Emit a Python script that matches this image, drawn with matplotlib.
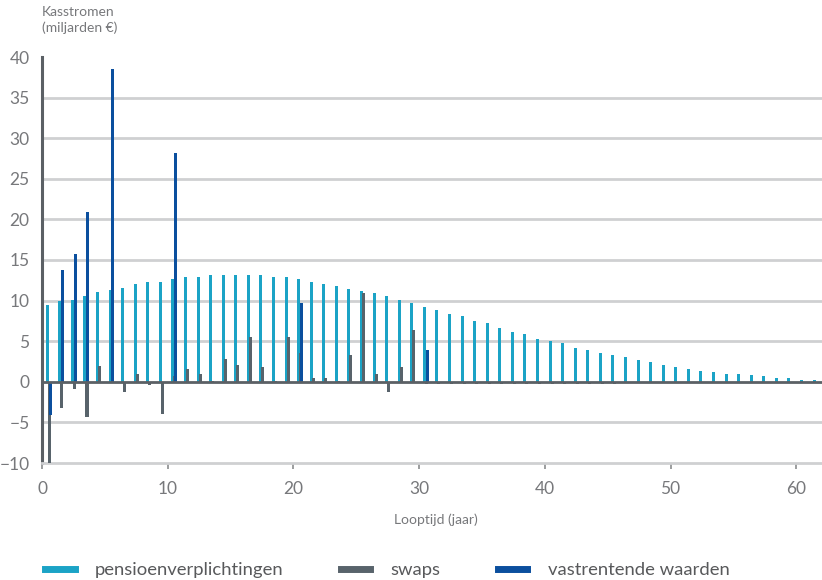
import numpy as np
import matplotlib
matplotlib.use("Agg")
import matplotlib.pyplot as plt
from matplotlib.lines import Line2D

plt.rcParams['font.family'] = ['Lato', 'DejaVu Sans']

# ---------------- data ----------------
pension = [9.5, 9.9, 10.1, 10.6, 11.0, 11.3, 11.5, 12.1, 12.35, 12.35,
           12.7, 12.9, 12.9, 13.2, 13.2, 13.2, 13.2, 13.2, 12.9, 12.9,
           12.6, 12.35, 12.05, 11.75, 11.45, 11.2, 10.9, 10.6, 10.1, 9.7,
           9.2, 8.9, 8.4, 8.1, 7.5, 7.2, 6.6, 6.1, 5.85, 5.3,
           5.0, 4.75, 4.2, 3.9, 3.6, 3.3, 3.0, 2.7, 2.4, 2.1,
           1.85, 1.55, 1.3, 1.25, 1.0, 0.95, 0.8, 0.75, 0.5, 0.45, 0.25, 0.2]

swaps = [-10.0, -3.2, -0.9, -4.3, 1.9, 0.0, -1.2, 1.0, -0.4, -4.0,
         0.75, 1.55, 1.0, 0.1, 2.75, 2.1, 5.55, 1.85, 0.1, 5.55,
         3.5, 0.5, 0.5, 0.1, 3.3, 10.9, 1.0, -1.2, 1.85, 6.4,
         -0.25, -0.25, -0.25, -0.25, -0.25, -0.25, -0.25, -0.25, -0.25, -0.25,
         -0.25, -0.25, -0.25, -0.25, -0.25, -0.25, -0.15, -0.15, -0.15, -0.15,
         -0.15, -0.15, -0.15, -0.15, -0.15, -0.15, -0.15, -0.15, -0.15, -0.15, -0.15, -0.15]

vast = [-4.1, 13.8, 15.8, 20.9, 0, 38.5, 0, 0, 0, 0,
        28.2, 0, 0, 0, 0, 0, 0, 0, 0, 0,
        9.7, 0, 0, 0, 0, 0, 0, 0, 0, 0,
        3.9, 0, 0, 0, 0, 0, 0, 0, 0, 0,
        0, 0, 0, 0, 0, 0, 0, 0, 0, 0,
        0, 0, 0, 0, 0, 0, 0, 0, 0, 0, 0, 0]

series_names = ['pensioenverplichtingen', 'swaps', 'vastrentende waarden']
x_ticks = [0, 10, 20, 30, 40, 50, 60]
y_ticks = [-10, -5, 0, 5, 10, 15, 20, 25, 30, 35, 40]
y_title = 'Kasstromen\n(miljarden €)'
x_title = 'Looptijd (jaar)'

# ---------------- style ----------------
c_pension = '#1ba3c6'
c_swaps = '#58636b'
c_vast = '#0b4f9e'
c_text = '#77787b'
c_grid = '#cfd0d2'

W, H = 822, 580
fig = plt.figure(figsize=(W / 100, H / 100), dpi=100)
ax = fig.add_axes([42 / W, 117 / H, 780 / W, 406 / H])

years = np.arange(len(pension))
bw = 0.24
ax.bar(years + 0.42, pension, width=bw, color=c_pension, zorder=3, linewidth=0)
ax.bar(years + 0.58, swaps, width=bw, color=c_swaps, zorder=4, linewidth=0)
vast_arr = np.array(vast, dtype=float)
mask = vast_arr != 0
ax.bar(years[mask] + 0.64, vast_arr[mask], width=bw, color=c_vast, zorder=5, linewidth=0)

ax.set_xlim(0, 62.05)
ax.set_ylim(-10, 40)

# gridlines (except 0 and 40)
for yv in y_ticks:
    if yv in (0, 40, -10):
        continue
    ax.axhline(yv, color=c_grid, lw=2, zorder=1)
ax.axhline(0, color='#5b6065', lw=2, zorder=6)

ax.set_yticks(y_ticks)
ax.set_xticks(x_ticks)
ax.tick_params(axis='y', length=0, pad=9, labelsize=12.5, labelcolor=c_text)
ax.tick_params(axis='x', length=4, width=1.2, color='#8a8c8e', pad=9,
               labelsize=12.5, labelcolor=c_text)

for s in ['top', 'right']:
    ax.spines[s].set_visible(False)
ax.spines['left'].set_color('#5b6065')
ax.spines['left'].set_linewidth(2.2)
ax.spines['bottom'].set_color(c_grid)
ax.spines['bottom'].set_linewidth(2)

fig.text(42 / W, 1 - 6 / H, y_title, ha='left', va='top', fontsize=10,
         color=c_text, linespacing=1.3)
fig.text(436 / W, 1 - 520 / H, x_title, ha='center', va='center',
         fontsize=10, color=c_text)

handles = [Line2D([], [], color=c, lw=5) for c in (c_pension, c_swaps, c_vast)]
leg = fig.legend(handles, series_names, loc='center left',
                 bbox_to_anchor=(45 / W, 1 - 570 / H), ncol=3, frameon=False,
                 fontsize=13.3, handlelength=1.6, handletextpad=1.1,
                 columnspacing=3.1, borderpad=0, borderaxespad=0)
for t in leg.get_texts():
    t.set_color('#58595b')

fig.savefig('out.png', dpi=100)
